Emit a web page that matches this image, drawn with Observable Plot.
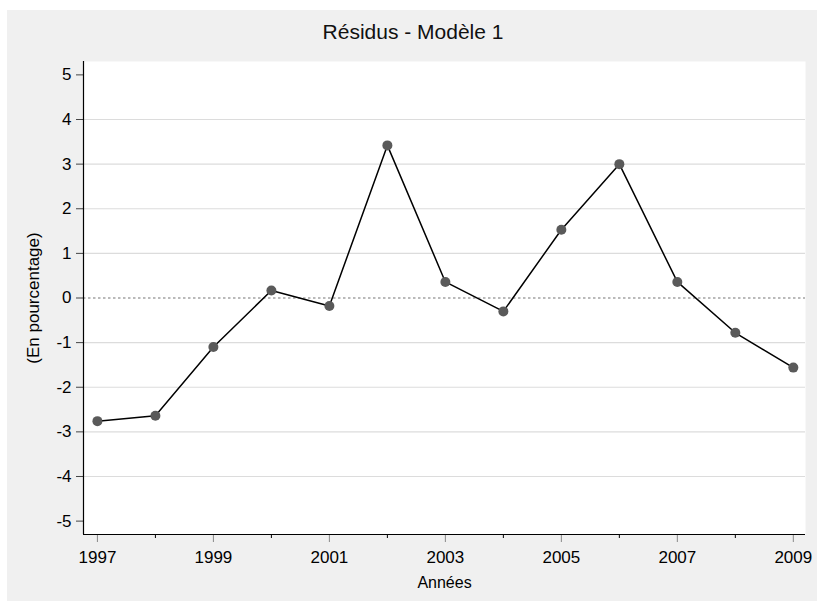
<!DOCTYPE html>
<html>
<head>
<meta charset="utf-8">
<script src="https://cdn.jsdelivr.net/npm/d3@7"></script>
<script src="https://cdn.jsdelivr.net/npm/@observablehq/plot@0.6"></script>
<style>
  html, body { margin: 0; padding: 0; background: #ffffff; }
  body { width: 817px; height: 601px; position: relative; overflow: hidden; font-family: "Liberation Sans", Arial, sans-serif; }
  #panel { position: absolute; left: 7px; top: 10px; width: 810px; height: 591px; background: #f0f0f0; }
  #title { height: 44px; line-height: 44px; text-align: center; font-size: 21px; color: #111; padding-left: 2px; }
  #panel svg { display: block; background: transparent; }
</style>
</head>
<body>
<div id="panel">
  <div id="title">Résidus - Modèle 1</div>
  <div id="chart"></div>
</div>
<script>
const years = [1997, 1998, 1999, 2000, 2001, 2002, 2003, 2004, 2005, 2006, 2007, 2008, 2009];
const residuals = [-2.76, -2.64, -1.10, 0.17, -0.18, 3.42, 0.36, -0.30, 1.53, 3.00, 0.36, -0.78, -1.56];
const yTicks = [-5, -4, -3, -2, -1, 0, 1, 2, 3, 4, 5];
const gridTicks = [-4, -3, -2, -1, 1, 2, 3, 4];
const xLabelTicks = [1997, 1999, 2001, 2003, 2005, 2007, 2009];
const xMinorTicks = [1998, 2000, 2002, 2004, 2006, 2008];
const xDomain = [1996.76, 2009.21];
const yDomain = [-5.3, 5.3];
const zeroLine = [0];
const xLabel = ["Années"];
const yLabel = ["(En pourcentage)"];

const data = years.map((year, i) => ({year, value: residuals[i]}));

const chart = Plot.plot({
  width: 810,
  height: 547,
  marginLeft: 76,
  marginRight: 12,
  marginTop: 7,
  marginBottom: 67,
  style: {fontFamily: "'Liberation Sans', Arial, sans-serif", fontSize: "17px", color: "#000", background: "transparent"},
  x: {domain: xDomain},
  y: {domain: yDomain},
  marks: [
    Plot.frame({fill: "white", stroke: null}),
    Plot.gridY(gridTicks, {stroke: "#dcdcdc", strokeOpacity: 1, strokeWidth: 1.2}),
    Plot.ruleY(zeroLine, {stroke: "#777", strokeDasharray: "2.5,2.5", strokeWidth: 1.2}),
    Plot.axisY({ticks: yTicks, tickSize: 7, tickPadding: 5, stroke: "#444", fill: "#000", fontSize: 17, label: null, tickFormat: d => String(d)}),
    Plot.axisX({ticks: xLabelTicks, tickSize: 8, tickPadding: 8, stroke: "#888", fill: "#000", fontSize: 17, label: null, tickFormat: d => String(d)}),
    Plot.axisX({ticks: xMinorTicks, tickSize: 4, stroke: "#000", label: null, tickFormat: () => ""}),
    Plot.ruleX([xDomain[0]], {stroke: "#000", strokeWidth: 1.2}),
    Plot.ruleY([yDomain[0]], {stroke: "#000", strokeWidth: 1.2}),
    Plot.line(data, {x: "year", y: "value", stroke: "#000", strokeWidth: 1.5}),
    Plot.dot(data, {x: "year", y: "value", r: 5, fill: "#5a5a5a", stroke: null}),
    Plot.text(xLabel, {frameAnchor: "bottom", lineAnchor: "middle", textAnchor: "middle", dy: 48, text: d => d, fontSize: 16, fill: "#000"}),
    Plot.text(yLabel, {frameAnchor: "left", lineAnchor: "middle", textAnchor: "middle", dx: -50, rotate: -90, text: d => d, fontSize: 17, fill: "#000"})
  ]
});
document.getElementById("chart").appendChild(chart);
</script>
</body>
</html>
